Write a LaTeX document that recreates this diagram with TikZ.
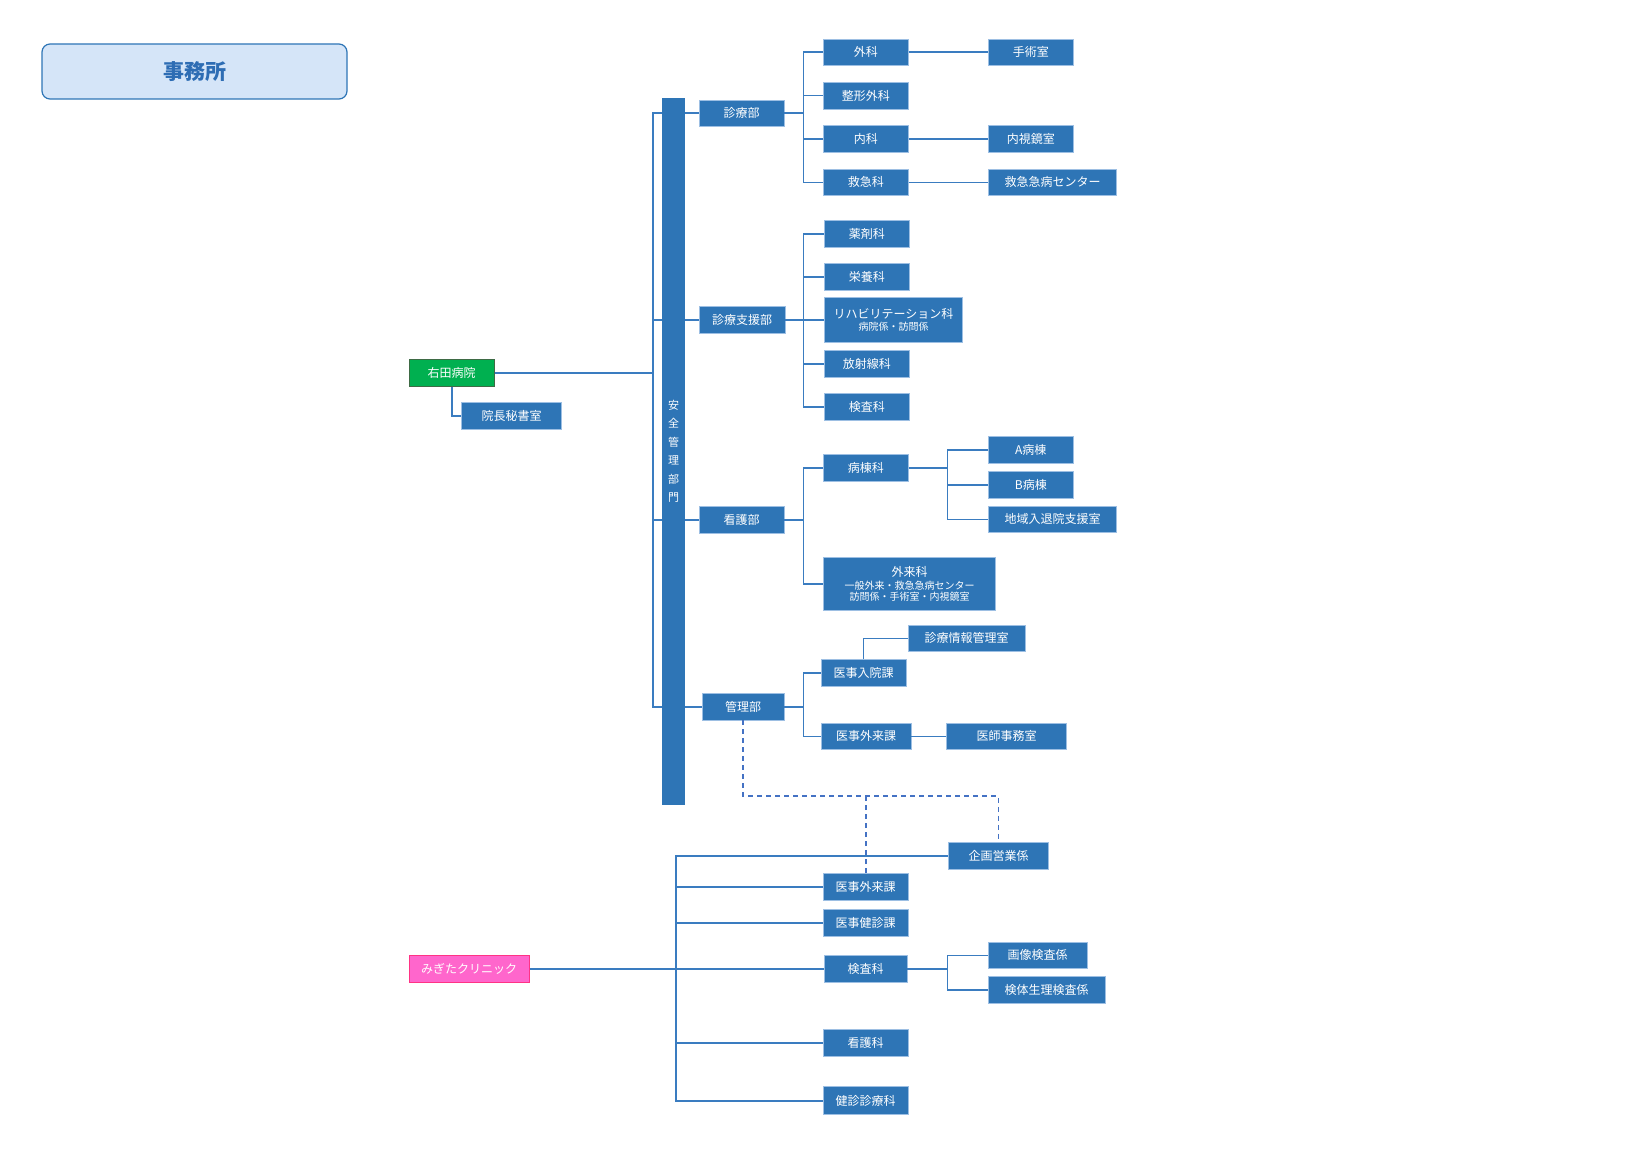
\documentclass[tikz,border=0pt]{standalone}
\usepackage{fontspec}
\setmainfont{Noto Sans CJK JP}
\definecolor{orgblue}{HTML}{2E75B6}
\definecolor{orgedge}{HTML}{9DBFE3}
\definecolor{orgline}{HTML}{3A7CC0}
\definecolor{orgdash}{HTML}{4472C4}
\definecolor{orgtitle}{HTML}{D5E5F8}
\definecolor{orgtitletext}{HTML}{2E6DB4}
\definecolor{orggreen}{HTML}{00B050}
\definecolor{orggreenedge}{HTML}{3E6B45}
\definecolor{orgpink}{HTML}{FF66CC}
\definecolor{orgpinkedge}{HTML}{FF3385}

\begin{document}
\begin{tikzpicture}[
  x=1pt, y=-1pt,
  dept/.style={
    rectangle, draw=orgedge, line width=0.6pt, fill=orgblue,
    minimum width=85pt, minimum height=26.7pt, inner sep=0pt,
    text=white, font=\fontsize{12}{14}\selectfont, align=center
  },
  hospital/.style={dept, fill=#1, draw=#1edge},
  conn/.style={draw=orgline, line width=1.6pt},
  dline/.style={draw=orgdash, line width=1.8pt, dash pattern=on 5pt off 4pt}
]
  \useasboundingbox (0,0) rectangle (1630,1153);

  \node[rectangle, rounded corners=8pt, draw=orgblue, line width=1.2pt, fill=orgtitle,
        minimum width=305pt, minimum height=55pt,
        text=orgtitletext, font=\fontsize{21}{24}\selectfont\bfseries] (office) at (194.5,71.5) {事務所};

  % hospital side
  \node[hospital=orggreen] (migita) at (451.7,373) {右田病院};
  \node[dept, minimum width=100pt] (hisho) at (511.7,416) {院長秘書室};

  \node[dept] (shinryo) at (741.5,113.3) {診療部};
  \node[dept, minimum width=85.7pt] (shien) at (742,320) {診療支援部};
  \node[dept] (kango) at (741.5,520) {看護部};
  \node[dept, minimum width=81.7pt] (kanri) at (743,706.7) {管理部};

  \node[dept] (geka) at (865.8,52.3) {外科};
  \node[dept] (seikei) at (865.8,95.7) {整形外科};
  \node[dept] (naika) at (865.8,139) {内科};
  \node[dept] (kyukyu) at (865.8,182.3) {救急科};
  \node[dept] (shujutsu) at (1030.8,52.3) {手術室};
  \node[dept] (naishikyo) at (1030.8,139) {内視鏡室};
  \node[dept, minimum width=128.4pt] (kyucenter) at (1052.5,182.3) {救急急病センター};

  \node[dept] (yakuzai) at (866.8,234) {薬剤科};
  \node[dept] (eiyo) at (866.8,277) {栄養科};
  \node[dept, minimum width=138.4pt, minimum height=45.4pt] (reha) at (893.5,320)
    {リハビリテーション科\\[-2pt]{\fontsize{10}{13}\selectfont 病院係・訪問係}};
  \node[dept] (hosha) at (866.8,363.7) {放射線科};
  \node[dept] (kensa) at (866.8,407) {検査科};

  \node[dept] (byoto) at (865.8,467.7) {病棟科};
  \node[dept, minimum width=172.4pt, minimum height=52.3pt] (gairai) at (909.5,583.9)
    {外来科\\[-1pt]{\fontsize{10}{13}\selectfont 一般外来・救急急病センター}\\[-3pt]{\fontsize{10}{13}\selectfont 訪問係・手術室・内視鏡室}};
  \node[dept] (abyoto) at (1030.8,450) {A病棟};
  \node[dept] (bbyoto) at (1030.8,485) {B病棟};
  \node[dept, minimum width=128.4pt] (chiiki) at (1052.5,519.3) {地域入退院支援室};

  \node[dept] (ijinyuin) at (863.5,672.7) {医事入院課};
  \node[dept, minimum width=90pt] (ijigairai) at (866,736.3) {医事外来課};
  \node[dept, minimum width=116.7pt] (joho) at (966.7,638.3) {診療情報管理室};
  \node[dept, minimum width=120pt] (ishijimu) at (1006.7,736.3) {医師事務室};

  % clinic side
  \node[hospital=orgpink, minimum width=120.5pt] (clinic) at (469.2,969) {みぎたクリニック};
  \node[dept, minimum width=100.5pt] (kikaku) at (998.5,856) {企画営業係};
  \node[dept] (cgairai) at (865.6,886.7) {医事外来課};
  \node[dept] (kenshin) at (865.6,923) {医事健診課};
  \node[dept, minimum width=83pt] (ckensa) at (865.5,969) {検査科};
  \node[dept, minimum width=99.5pt] (gazo) at (1037.7,955.3) {画像検査係};
  \node[dept, minimum width=117pt] (kentai) at (1046.5,989.7) {検体生理検査係};
  \node[dept] (ckango) at (865.6,1042.7) {看護科};
  \node[dept, minimum height=28pt] (kshinryo) at (865.6,1100.7) {健診診療科};

  \coordinate (trunk) at (653,0);
  \coordinate (split) at (803.5,0);
  \coordinate (sub) at (947.5,0);
  \coordinate (ctrunk) at (676,0);
  \coordinate (dash) at (0,796);

  % hospital tree
  \draw[conn] (shinryo.west) -- (shinryo.west -| trunk) -- (kanri.west -| trunk) -- (kanri.west);
  \foreach \n in {shien, kango}
    \draw[conn] (\n.west) -- (\n.west -| trunk);
  \draw[conn] (migita.east) -- (migita.east -| trunk);
  \draw[conn] (migita.south) |- (hisho.west);

  \draw[conn] (geka.west) -- (geka.west -| split) -- (kyukyu.west -| split) -- (kyukyu.west);
  \foreach \n in {seikei, naika}
    \draw[conn] (\n.west) -- (\n.west -| split);
  \draw[conn] (shinryo.east) -- (shinryo.east -| split);
  \draw[conn] (geka.east) -- (shujutsu.west);
  \draw[conn] (naika.east) -- (naishikyo.west);
  \draw[conn] (kyukyu.east) -- (kyucenter.west);

  \draw[conn] (yakuzai.west) -- (yakuzai.west -| split) -- (kensa.west -| split) -- (kensa.west);
  \foreach \n in {eiyo, reha, hosha}
    \draw[conn] (\n.west) -- (\n.west -| split);
  \draw[conn] (shien.east) -- (shien.east -| split);

  \draw[conn] (byoto.west) -- (byoto.west -| split) -- (gairai.west -| split) -- (gairai.west);
  \draw[conn] (kango.east) -- (kango.east -| split);
  \draw[conn] (abyoto.west) -- (abyoto.west -| sub) -- (chiiki.west -| sub) -- (chiiki.west);
  \draw[conn] (bbyoto.west) -- (bbyoto.west -| sub);
  \draw[conn] (byoto.east) -- (byoto.east -| sub);

  \draw[conn] (ijinyuin.west) -- (ijinyuin.west -| split) -- (ijigairai.west -| split) -- (ijigairai.west);
  \draw[conn] (kanri.east) -- (kanri.east -| split);
  \draw[conn] (ijinyuin.north) |- (joho.west);
  \draw[conn] (ijigairai.east) -- (ishijimu.west);

  % dashed links
  \draw[dline] (kanri.south) -- (kanri.south |- dash) -| (kikaku.north);
  \draw[dline] (cgairai.north) -- (cgairai.north |- dash);

  % clinic tree
  \draw[conn] (kikaku.west) -- (kikaku.west -| ctrunk) -- (kshinryo.west -| ctrunk) -- (kshinryo.west);
  \foreach \n in {cgairai, kenshin, ckensa, ckango}
    \draw[conn] (\n.west) -- (\n.west -| ctrunk);
  \draw[conn] (clinic.east) -- (clinic.east -| ctrunk);
  \draw[conn] (gazo.west) -- (gazo.west -| sub) -- (kentai.west -| sub) -- (kentai.west);
  \draw[conn] (ckensa.east) -- (ckensa.east -| sub);

  % safety bar over the trunk lines
  \node[rectangle, fill=orgblue, minimum width=23pt, minimum height=707pt, inner sep=0pt,
        text=white, align=center, font=\fontsize{11}{18.5}\selectfont] (anzen) at (673.5,451.5)
    {安\\全\\管\\理\\部\\門};
\end{tikzpicture}
\end{document}
